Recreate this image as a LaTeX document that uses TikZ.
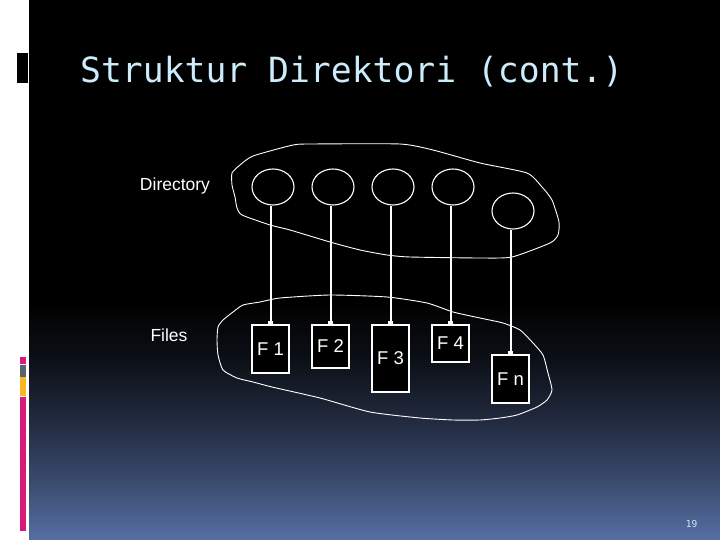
\documentclass[tikz,border=0pt]{standalone}
\usepackage{fontspec}
\setmainfont{Liberation Sans}
\newfontfamily\titlefont{DejaVu Sans Mono}
\usetikzlibrary{shapes.geometric,arrows.meta}
\definecolor{titlec}{RGB}{204,236,252}
\definecolor{botc}{RGB}{86,111,163}
\definecolor{gA}{RGB}{12,16,23}
\definecolor{gB}{RGB}{33,42,62}
\definecolor{gC}{RGB}{57,74,109}
\definecolor{magc}{RGB}{216,27,122}
\definecolor{grayc}{RGB}{90,98,112}
\definecolor{yelc}{RGB}{245,184,32}
\pgfdeclareverticalshading{bgsh}{100bp}{color(0bp)=(botc); color(25bp)=(botc); color(37.5bp)=(gC); color(50bp)=(gB); color(62.5bp)=(gA); color(75bp)=(black); color(100bp)=(black)}
\tikzset{
  dirnode/.style={draw=white,line width=1.1pt,ellipse,minimum width=42pt,minimum height=36pt,inner sep=0pt},
  filebox/.style={draw=white,fill=black,line width=1.2pt,minimum width=37pt,inner sep=0pt,text=white,font=\fontsize{18.5}{22}\selectfont},
  conn/.style={draw=white,line width=2pt,-{Square[length=3pt,width=4.5pt]}},
  blob/.style={draw=white,line width=0.9pt},
  lbl/.style={text=white,font=\fontsize{17.5}{21}\selectfont,inner sep=0pt}
}
\begin{document}
\begin{tikzpicture}[x=1pt,y=-1pt]
\useasboundingbox (0,0) rectangle (720,540);
% background
\fill[black] (29,0) rectangle (720,301);
\path[shading=bgsh] (29,300) rectangle (720,540);
\fill[white] (0,0) rectangle (29,540);
\fill[black] (17,53) rectangle (28,83);
\fill[magc] (20,357) rectangle (26,364);
\fill[grayc] (20,365) rectangle (26,377);
\fill[yelc] (20,377) rectangle (26,396);
\fill[magc] (20,397) rectangle (26,531);
% title
\node[anchor=base west,inner sep=0pt,text=titlec,font=\titlefont\fontsize{34.7}{40}\selectfont] (title) at (80,83) {Struktur Direktori (cont.)};
% labels
\node[lbl] (dirlbl) at (175,185.5) {Directory};
\node[lbl] (fileslbl) at (169,335) {Files};
% blobs
\draw[blob] plot[smooth cycle,tension=0.35] coordinates {
 (312,144) (400,144) (433,150) (480,163) (527,173) (542,187) (552,200) (559,222) (558,235) (550,243) (512,257) (480,258) (410,257) (387,255) (360,250) (330,242) (290,230) (270,225) (242,215) (237,208) (235,197) (232,185) (232,173) (240,165) (253,156) (293,145)};
\draw[blob] plot[smooth cycle,tension=0.35] coordinates {
 (280,298) (330,295) (387,297) (427,303) (453,312) (480,318) (503,323) (520,330) (533,343) (543,355) (548,373) (552,390) (547,400) (537,407) (517,415) (500,418) (480,420) (453,420) (420,418) (370,412) (320,398) (272,387) (253,382) (237,378) (223,370) (218,355) (217,340) (218,327) (223,320) (233,312) (243,305) (260,302)};
% directory entries
\node[dirnode] (c1) at (273,187) {};
\node[dirnode] (c2) at (333,187) {};
\node[dirnode] (c3) at (393,187) {};
\node[dirnode] (c4) at (453,187) {};
\node[dirnode] (c5) at (513,211) {};
% files
\node[filebox,minimum height=48pt] (f1) at (270.5,349) {F 1};
\node[filebox,minimum height=43pt] (f2) at (330.5,346.5) {F 2};
\node[filebox,minimum height=67pt] (f3) at (390.5,358.5) {F 3};
\node[filebox,minimum height=37pt] (f4) at (450.5,343.5) {F 4};
\node[filebox,minimum height=48pt] (fn) at (510.5,379) {F n};
% connectors
\draw[conn] (c1.south -| f1.north) -- (f1.north);
\draw[conn] (c2.south -| f2.north) -- (f2.north);
\draw[conn] (c3.south -| f3.north) -- (f3.north);
\draw[conn] (c4.south -| f4.north) -- (f4.north);
\draw[conn] (c5.south -| fn.north) -- (fn.north);
% page number
\node[text=titlec,font=\titlefont\fontsize{9.5}{11}\selectfont,inner sep=0pt] (pnum) at (691.5,524) {19};
\end{tikzpicture}
\end{document}
